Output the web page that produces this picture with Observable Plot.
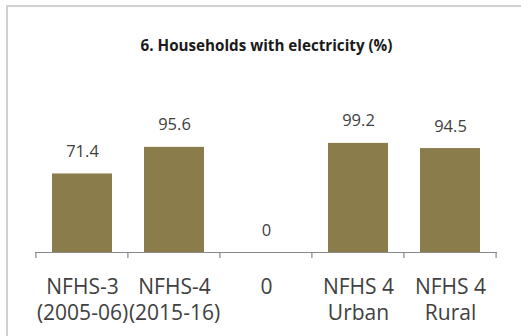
<!DOCTYPE html>
<html>
<head>
<meta charset="utf-8">
<script src="https://cdn.jsdelivr.net/npm/d3@7"></script>
<script src="https://cdn.jsdelivr.net/npm/@observablehq/plot@0.6"></script>
<style>
  html, body { margin: 0; padding: 0; background: #fff; }
  #chart { position: relative; width: 521px; height: 336px; overflow: hidden; }
  #border { position: absolute; left: 6px; top: 5px; width: 700px; height: 500px;
            border-left: 2px solid #d0d0d0; border-top: 2px solid #d0d0d0; }
  #chart svg { position: absolute; left: 0; top: 0; }
</style>
</head>
<body>
<div id="chart"><div id="border"></div></div>
<script>
// Households with electricity, NFHS rounds and urban/rural split
const title = "6. Households with electricity (%)";
const categories = ["NFHS-3 (2005-06)", "NFHS-4 (2015-16)", "0", "NFHS 4 Urban", "NFHS 4 Rural"];
const tickLabels = ["NFHS-3\n(2005-06)", "NFHS-4\n(2015-16)", "0", "NFHS 4\nUrban", "NFHS 4\nRural"];
const values = [71.4, 95.6, 0, 99.2, 94.5];

const rows = categories.map((c, i) => ({category: c, label: tickLabels[i], value: values[i]}));

const font = "'Open Sans', sans-serif";
const textColor = "#404040";
const gap = 0.35;

const plot = Plot.plot({
  width: 521,
  height: 336,
  marginLeft: 35,
  marginRight: 24,
  marginTop: 120,
  marginBottom: 84,
  style: {fontFamily: font, background: "transparent", overflow: "visible"},
  x: {domain: categories, paddingInner: gap, paddingOuter: gap / 2, axis: null},
  y: {domain: [0, 120], axis: null},
  marks: [
    Plot.barY(rows, {x: "category", y: "value", fill: "#8a7d4b"}),
    Plot.ruleY([0], {stroke: "#888888", strokeWidth: 1.2}),
    Plot.text(rows, {
      x: "category", y: "value", text: d => d3.format("")(d.value),
      lineAnchor: "bottom", dy: -17, fontSize: 16.5, fill: textColor
    }),
    Plot.text(rows, {
      x: "category", text: "label", frameAnchor: "bottom",
      lineAnchor: "top", dy: 23, lineHeight: 1.24, fontSize: 21, fill: textColor
    }),
    Plot.text([title], {
      text: d => d, frameAnchor: "top", lineAnchor: "bottom", dy: -70,
      fontSize: 15.2, fontWeight: "bold", fill: "#1a1a1a"
    })
  ]
});

// category divider ticks below the baseline, at the band edges
const xs = plot.scale("x");
const ys = plot.scale("y");
const y0 = ys.apply(0);
const edges = d3.range(categories.length + 1).map(i =>
  i < categories.length ? xs.apply(categories[i]) - xs.step * gap / 2
                        : xs.apply(categories[i - 1]) + xs.bandwidth + xs.step * gap / 2);
d3.select(plot).append("g")
  .attr("stroke", "#888888").attr("stroke-width", 1.2)
  .selectAll("line").data(edges).join("line")
  .attr("x1", d => d).attr("x2", d => d)
  .attr("y1", y0).attr("y2", y0 + 6);

document.getElementById("chart").appendChild(plot);
</script>
</body>
</html>
